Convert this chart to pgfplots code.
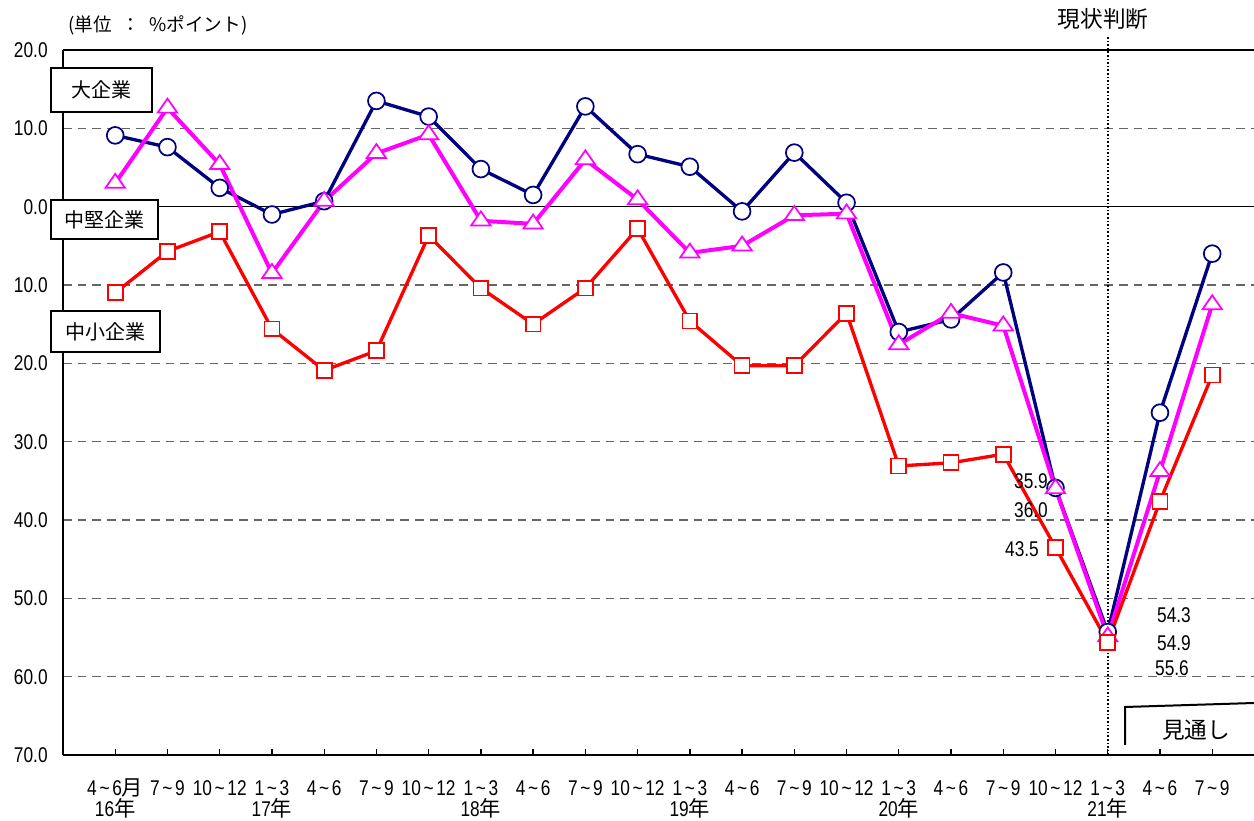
\documentclass[border=0pt]{standalone}
\usepackage{fontspec}
\setmainfont{Liberation Sans}[FakeStretch=0.81]
\newfontfamily\jp{Noto Sans CJK JP}
\usepackage{pgfplots}
\pgfplotsset{compat=1.18}
\definecolor{cnavy}{RGB}{0,0,128}
\definecolor{cmag}{RGB}{255,0,255}
\definecolor{cred}{RGB}{255,0,0}
\newcommand\tl{\kern2pt\textasciitilde\kern2pt}
\newcommand\tf{\fontsize{16}{19}\selectfont}
\begin{document}
\begin{tikzpicture}
\useasboundingbox (0,0) rectangle (940.5pt,615.75pt);
\begin{axis}[
 at={(47.25pt,49.5pt)}, anchor=south west,
 scale only axis, width=893.25pt, height=528.75pt,
 xmin=-1, xmax=21.8, ymin=-70, ymax=20,
 axis x line*=bottom, axis y line*=left,
 axis line style={line width=1.5pt, black},
 xtick={0,...,21},
 xticklabels={4\tl6{\jp 月},7\tl9,10\tl12,1\tl3,4\tl6,7\tl9,10\tl12,1\tl3,4\tl6,7\tl9,10\tl12,1\tl3,4\tl6,7\tl9,10\tl12,1\tl3,4\tl6,7\tl9,10\tl12,1\tl3,4\tl6,7\tl9},
 xtick align=inside,
 major tick length=4.5pt,
 x tick style={black, line width=1pt},
 ytick={-70,-60,...,20},
 yticklabels={70.0,60.0,50.0,40.0,30.0,20.0,10.0,0.0,10.0,20.0},
 y tick style={draw=none},
 ymajorgrids,
 grid style={dash pattern=on 6.5pt off 4.5pt, line width=1pt, black!60},
 ticklabel style={font=\tf},
 yticklabel style={xshift=-8pt},
 xticklabel style={anchor=base, yshift=-30.5pt},
 clip=false,
]
\draw[black, line width=1.2pt] (axis cs:-1,0) -- (axis cs:21.8,0);
\draw[black, line width=1.2pt] (axis cs:-1,20) -- (axis cs:21.8,20);
\draw[black, line width=1.5pt, dash pattern=on 1.2pt off 1.5pt] (axis cs:19,-70) -- ([yshift=11.25pt]axis cs:19,20);
\addplot[cnavy, line width=2.5pt, mark=*, mark size=6.3pt, mark options={fill=white, draw=cnavy, line width=1.3pt}] coordinates {
(0,9.1) (1,7.6) (2,2.4) (3,-1.0) (4,0.7) (5,13.5) (6,11.5) (7,4.8) (8,1.5) (9,12.8) (10,6.7)
(11,5.1) (12,-0.6) (13,6.9) (14,0.5) (15,-16.0) (16,-14.4) (17,-8.4) (18,-35.9) (19,-54.3) (20,-26.3) (21,-6.0)};
\addplot[cmag, line width=3pt, mark=triangle*, mark size=7pt, mark options={fill=white, draw=cmag, line width=1.3pt, xscale=1.2}] coordinates {
(0,3.0) (1,12.6) (2,5.4) (3,-8.5) (4,0.7) (5,6.8) (6,9.2) (7,-1.8) (8,-2.2) (9,6.0) (10,0.9)
(11,-5.9) (12,-5.0) (13,-1.1) (14,-0.9) (15,-17.6) (16,-13.6) (17,-15.2) (18,-36.0) (19,-54.9) (20,-33.8) (21,-12.5)};
\addplot[cred, line width=2.5pt, mark=square*, mark size=5.6pt, mark options={fill=white, draw=cred, line width=1.3pt}] coordinates {
(0,-11.0) (1,-5.7) (2,-3.2) (3,-15.6) (4,-20.9) (5,-18.4) (6,-3.7) (7,-10.4) (8,-15.0) (9,-10.4) (10,-2.8)
(11,-14.6) (12,-20.3) (13,-20.3) (14,-13.6) (15,-33.1) (16,-32.7) (17,-31.6) (18,-43.5) (19,-55.6) (20,-37.6) (21,-21.5)};
\foreach \k/\yr in {0/16,3/17,7/18,11/19,15/20,19/21}{
 \edef\temp{\noexpand\node[anchor=base, font=\noexpand\tf] at ([yshift=-46.5pt]axis cs:\k,-70) {\yr{\noexpand\jp 年}};}
 \temp
}
\end{axis}
\begin{scope}[x=0.75pt,y=0.75pt]
\node[font=\jp\fontsize{14}{16}\selectfont] at (158,796) {(単位\enspace：\enspace\%ポイント)};
\node[font=\jp\fontsize{17}{20}\selectfont] at (1103,802) {現状判断};
\draw[fill=white, line width=1.2pt] (51,709) rectangle (152,753);
\node[font=\jp\fontsize{15}{18}\selectfont] at (101.5,731) {大企業};
\draw[fill=white, line width=1.2pt] (51,582) rectangle (158,621);
\node[font=\jp\fontsize{15}{18}\selectfont] at (104.5,601) {中堅企業};
\draw[fill=white, line width=1.2pt] (51,469) rectangle (160,510);
\node[font=\jp\fontsize{15}{18}\selectfont] at (105.5,489) {中小企業};
\draw[line width=1.5pt] (1125,76) -- (1125,114) -- (1254,118);
\node[font=\jp\fontsize{17}{20}\selectfont] at (1196,91) {見通し};
\begin{scope}[font=\tf]
\node at (1031,340) {35.9};
\node at (1031,311) {36.0};
\node at (1022,272) {43.5};
\node at (1174,206) {54.3};
\node at (1174,178) {54.9};
\node at (1172,153) {55.6};
\end{scope}
\end{scope}
\end{tikzpicture}
\end{document}
